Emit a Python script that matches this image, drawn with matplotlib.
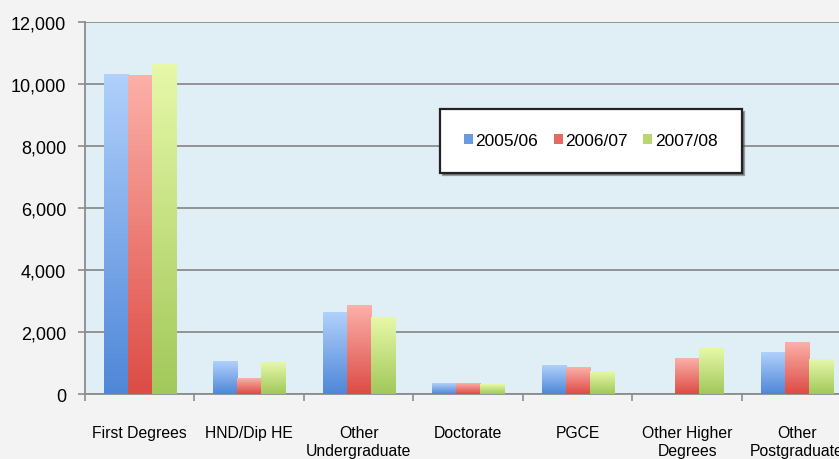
import numpy as np
import matplotlib.pyplot as plt
from matplotlib.patches import Patch
from matplotlib.colors import LinearSegmentedColormap

categories = ["First Degrees", "HND/Dip HE", "Other\nUndergraduate", "Doctorate",
              "PGCE", "Other Higher\nDegrees", "Other\nPostgraduate"]
years = ["2005/06", "2006/07", "2007/08"]
v_0506 = [10320, 1045, 2635, 325, 935, 0, 1345]
v_0607 = [10290, 515, 2850, 325, 870, 1160, 1665]
v_0708 = [10645, 1020, 2475, 300, 735, 1475, 1130]
series = [v_0506, v_0607, v_0708]

# top colour, bottom colour for the gradient fill
grads = [("#b0d0fb", "#4f87d8"), ("#fbb0a8", "#dd4c46"), ("#e6f8a8", "#a2c85a")]
solid = ["#6a9ae0", "#e46a62", "#b8d86e"]

plt.rcParams["font.family"] = ["Liberation Sans", "DejaVu Sans"]

fig = plt.figure(figsize=(8.39, 4.6), dpi=100, facecolor="#f3f3f3")
ax = fig.add_axes([0.1013, 0.1413, 0.9136, 0.808])
ax.set_facecolor("#e0eef5")

x = np.arange(len(categories))
w = 0.22
for i, vals in enumerate(series):
    cmap = LinearSegmentedColormap.from_list("g%d" % i, [grads[i][1], grads[i][0]])
    pos = x + (i - 1) * w
    bars = ax.bar(pos, vals, w, color="none", edgecolor="none", zorder=3)
    for b in bars:
        h = b.get_height()
        if h <= 0:
            continue
        grad = np.linspace(0, 1, 64).reshape(-1, 1)
        ax.imshow(grad, cmap=cmap, origin="lower", aspect="auto", zorder=3,
                  extent=[b.get_x(), b.get_x() + b.get_width(), 0, h])

ax.set_xlim(-0.5, 6.5)
ax.set_ylim(0, 12000)
ax.set_yticks(np.arange(0, 12001, 2000))
ax.set_yticklabels(["{:,}".format(v) for v in range(0, 12001, 2000)], fontsize=13)
ax.yaxis.grid(True, color="#8c8c8c", lw=1.3, zorder=1)
ax.set_axisbelow(True)

ax.set_xticks(x)
ax.set_xticklabels(categories, fontsize=11.3, linespacing=1.3)
ax.set_xticks(np.arange(-0.5, 7, 1), minor=True)
ax.tick_params(axis="x", which="major", length=0, pad=22)
ax.tick_params(axis="x", which="minor", length=5, color="#8c8c8c", width=1.2)
ax.tick_params(axis="y", length=5, color="#8c8c8c", width=1.2, pad=8.5)

for s in ["top", "right"]:
    ax.spines[s].set_visible(False)
ax.spines["left"].set_color("#8c8c8c")
ax.spines["left"].set_linewidth(1.3)
ax.spines["bottom"].set_color("#8c8c8c")
ax.spines["bottom"].set_linewidth(1.3)

handles = [Patch(facecolor=solid[i], edgecolor="none", label=years[i]) for i in range(3)]
leg = ax.legend(handles=handles, loc="upper left", bbox_to_anchor=(0.463, 0.767),
                ncol=3, fontsize=12.5, frameon=True, fancybox=False, shadow=True,
                handlelength=0.5, handleheight=0.5, handletextpad=0.15,
                columnspacing=0.9, borderpad=1.4, borderaxespad=0)
leg.get_frame().set_edgecolor("#222222")
leg.get_frame().set_linewidth(1.6)
leg.get_frame().set_facecolor("white")
leg.get_frame().set_alpha(1)

fig.savefig("out.png", dpi=100, facecolor=fig.get_facecolor())
